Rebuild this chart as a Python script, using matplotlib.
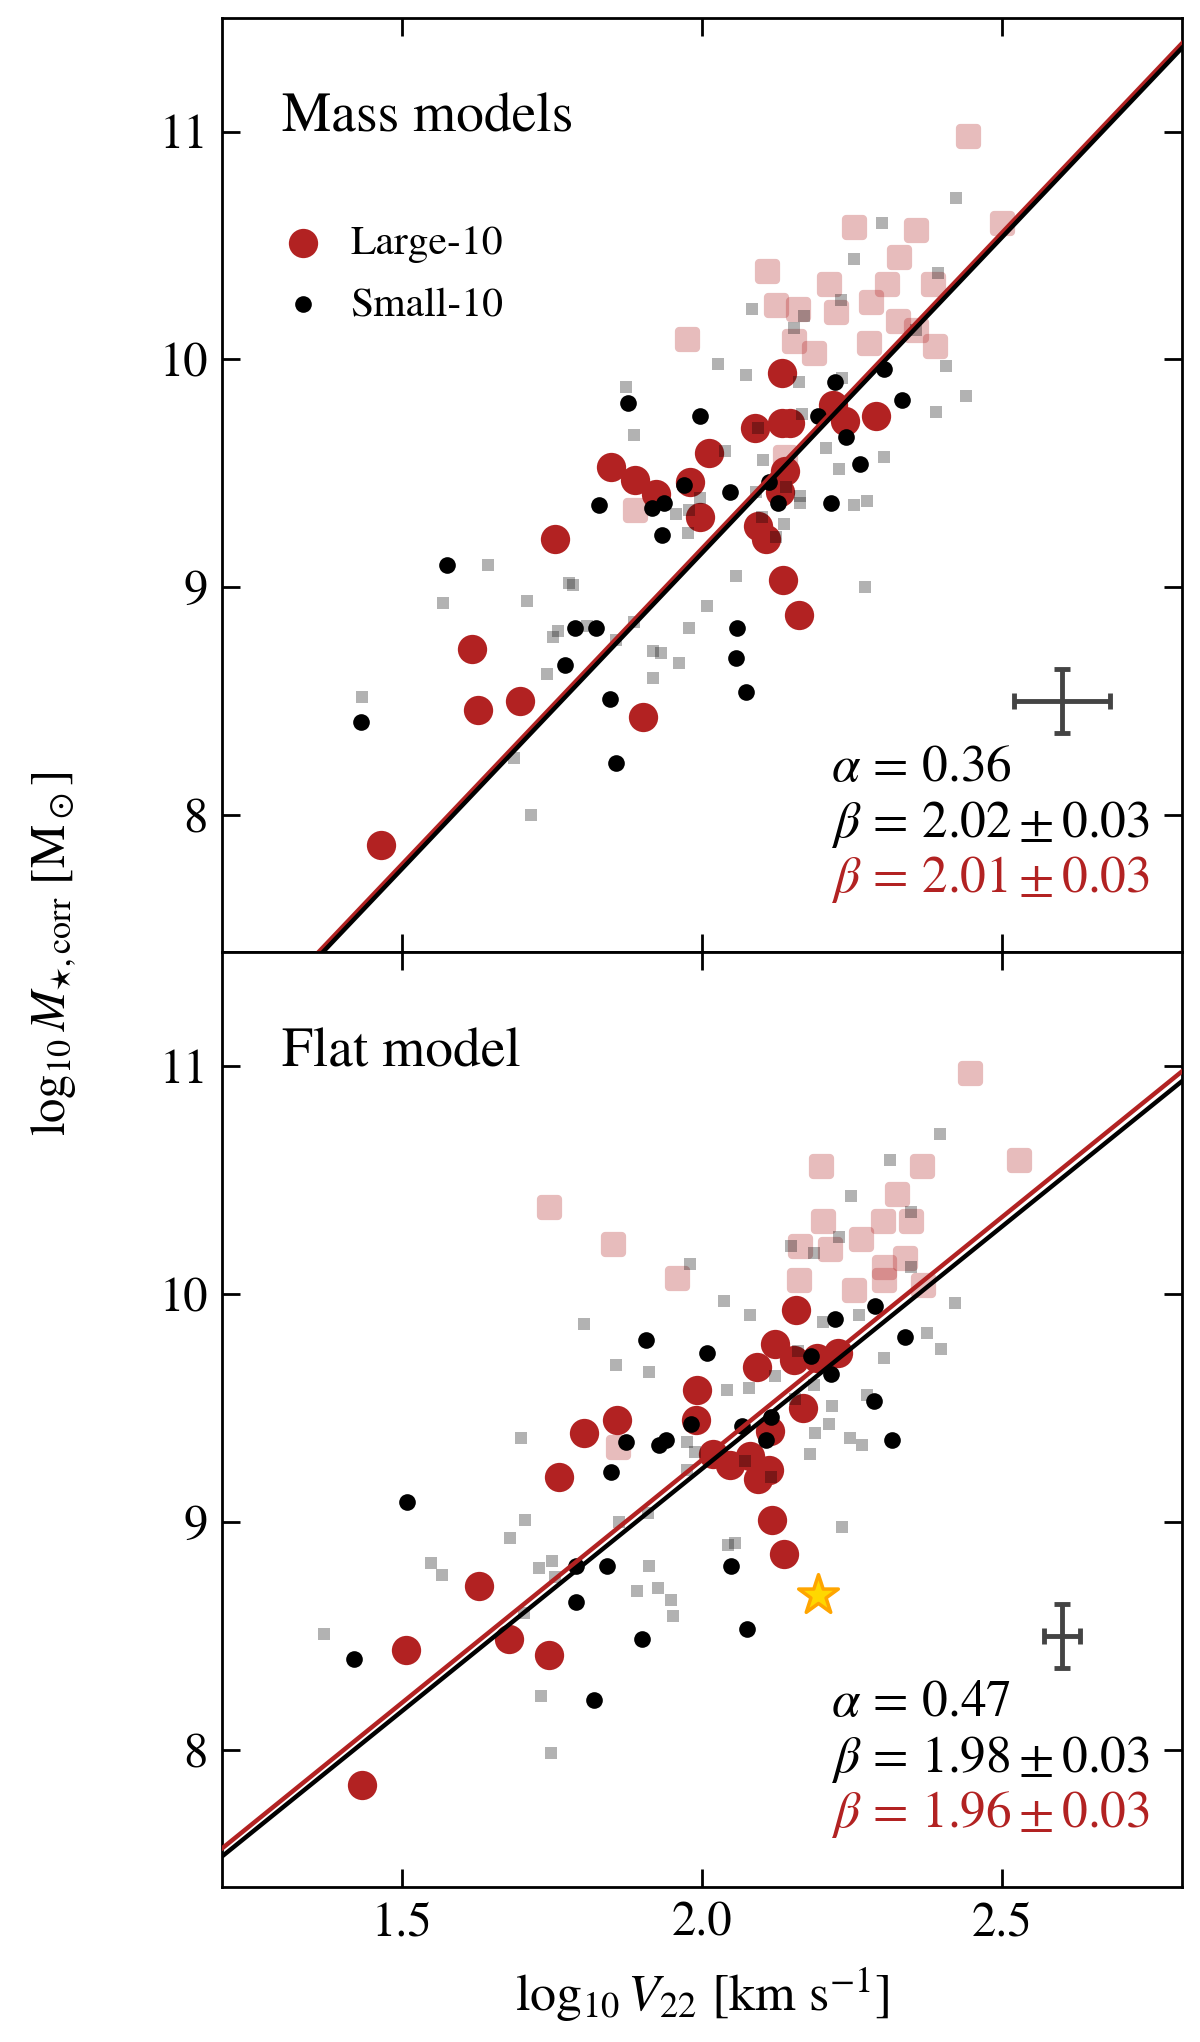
import numpy as np
import matplotlib
matplotlib.use("Agg")
import matplotlib.pyplot as plt
from matplotlib.path import Path

plt.rcParams['font.family'] = ['STIXGeneral', 'DejaVu Serif']
plt.rcParams['mathtext.fontset'] = 'stix'

# ---- data ----
# top panel: mass models
top_pink_x = [2.443, 2.500, 2.254, 2.357, 2.329, 2.109, 2.212, 2.309, 2.385, 2.123, 2.160,
              2.224, 2.282, 2.327, 2.356, 2.153, 2.187, 2.278, 2.389, 1.975, 2.139, 1.888]
top_pink_y = [10.98, 10.60, 10.58, 10.57, 10.45, 10.39, 10.33, 10.33, 10.33, 10.24, 10.22,
              10.21, 10.25, 10.17, 10.13, 10.08, 10.03, 10.07, 10.06, 10.09, 9.57, 9.34]

top_gray_x = [1.433, 1.643, 1.569, 1.709, 1.779, 1.786, 1.761, 1.752, 1.808, 1.742, 1.687,
              1.716, 1.886, 1.857, 1.919, 1.932, 1.961, 1.918, 1.979, 1.957, 1.976, 1.978,
              1.997, 2.057, 2.008, 2.272, 2.253, 2.275, 2.163, 2.163, 2.136, 2.100, 2.124,
              2.090, 2.140, 2.423, 2.300, 2.253, 2.393, 2.232, 2.084, 2.170, 2.153, 2.356,
              2.407, 2.440, 2.390, 2.027, 2.074, 1.873, 1.887, 2.162, 2.233, 2.166, 2.039,
              2.102, 2.207, 2.228, 2.304, 2.094]
top_gray_y = [8.52, 9.10, 8.93, 8.94, 9.02, 9.01, 8.81, 8.78, 8.83, 8.62, 8.25,
              8.00, 8.85, 8.77, 8.72, 8.71, 8.67, 8.60, 8.82, 9.32, 9.24, 9.34,
              9.39, 9.05, 8.92, 9.00, 9.36, 9.38, 9.40, 9.37, 9.28, 9.31, 9.22,
              9.42, 9.44, 10.71, 10.60, 10.44, 10.38, 10.26, 10.22, 10.19, 10.14, 10.13,
              9.97, 9.84, 9.77, 9.98, 9.93, 9.88, 9.67, 9.90, 9.92, 9.76, 9.60,
              9.56, 9.61, 9.52, 9.57, 9.70]

top_red_x = [1.466, 1.617, 1.627, 1.697, 1.755, 1.902, 1.997, 2.093, 2.107, 2.135, 2.161,
             2.134, 2.290, 2.218, 2.239, 2.133, 2.147, 2.088, 2.011, 1.980, 1.848, 1.888,
             1.924, 2.138, 2.130]
top_red_y = [7.87, 8.73, 8.46, 8.50, 9.21, 8.43, 9.31, 9.27, 9.21, 9.03, 8.88,
             9.94, 9.75, 9.80, 9.73, 9.72, 9.72, 9.70, 9.59, 9.46, 9.53, 9.47,
             9.41, 9.51, 9.42]

top_black_x = [1.432, 1.576, 1.789, 1.824, 1.772, 1.846, 1.856, 1.829, 1.917, 1.936, 1.933,
               1.970, 2.046, 2.126, 2.215, 2.058, 2.057, 2.074, 2.111, 1.876, 1.996, 2.222,
               2.304, 2.333, 2.193, 2.240, 2.264]
top_black_y = [8.41, 9.10, 8.82, 8.82, 8.66, 8.51, 8.23, 9.36, 9.35, 9.37, 9.23,
               9.45, 9.42, 9.37, 9.37, 8.82, 8.69, 8.54, 9.46, 9.81, 9.75, 9.90,
               9.96, 9.82, 9.75, 9.66, 9.54]

# bottom panel: flat model
bot_pink_x = [2.447, 2.528, 2.199, 2.366, 2.325, 1.852, 1.959, 2.202, 2.301, 2.349, 2.164,
              2.214, 2.265, 2.339, 2.304, 2.304, 2.161, 2.253, 2.368, 1.860, 1.746]
bot_pink_y = [10.97, 10.59, 10.56, 10.56, 10.44, 10.22, 10.07, 10.32, 10.32, 10.32, 10.21,
              10.20, 10.24, 10.16, 10.12, 10.06, 10.06, 10.02, 10.04, 9.33, 10.38]

bot_gray_x = [1.371, 1.699, 1.706, 1.681, 1.549, 1.567, 1.728, 1.751, 1.756, 1.703, 1.861,
              1.910, 1.912, 1.891, 1.926, 1.949, 1.951, 1.732, 1.748, 1.975, 1.975, 1.988,
              2.041, 2.078, 2.216, 2.212, 2.188, 2.180, 2.247, 2.267, 2.275, 2.233, 2.044,
              2.055, 2.072, 2.115, 2.155, 2.186, 2.396, 2.313, 2.249, 2.348, 2.229, 2.149,
              2.186, 2.349, 1.980, 2.037, 2.080, 1.803, 1.856, 1.912, 2.201, 2.262, 2.422,
              2.375, 2.398, 2.303, 2.160, 2.121]
bot_gray_y = [8.51, 9.37, 9.01, 8.93, 8.82, 8.77, 8.80, 8.83, 8.76, 8.60, 9.00,
              9.04, 8.81, 8.70, 8.71, 8.66, 8.59, 8.24, 7.99, 9.23, 9.35, 9.31,
              9.58, 9.59, 9.51, 9.43, 9.39, 9.30, 9.37, 9.34, 9.56, 8.98, 8.90,
              8.91, 9.27, 9.20, 9.54, 9.60, 10.70, 10.59, 10.43, 10.36, 10.25, 10.21,
              10.18, 10.12, 10.13, 9.97, 9.91, 9.87, 9.69, 9.66, 9.88, 9.91, 9.96,
              9.83, 9.76, 9.72, 9.75, 9.64]

bot_red_x = [1.433, 1.507, 1.628, 1.678, 1.746, 1.762, 1.804, 1.859, 1.992, 1.990, 2.168,
             2.113, 2.019, 2.047, 2.080, 2.111, 2.094, 2.117, 2.137, 2.156, 2.121, 2.091,
             2.153, 2.192, 2.226]
bot_red_y = [7.85, 8.44, 8.72, 8.49, 8.42, 9.20, 9.39, 9.45, 9.58, 9.45, 9.50,
             9.40, 9.30, 9.25, 9.29, 9.23, 9.19, 9.01, 8.86, 9.93, 9.78, 9.68,
             9.71, 9.72, 9.74]

bot_black_x = [1.421, 1.509, 1.791, 1.841, 1.791, 1.900, 1.821, 1.849, 1.873, 1.928, 1.940,
               1.981, 2.066, 2.115, 2.106, 2.286, 2.316, 2.048, 2.075, 1.906, 2.008, 2.289,
               2.221, 2.339, 2.181, 2.215]
bot_black_y = [8.40, 9.09, 8.81, 8.81, 8.65, 8.49, 8.22, 9.22, 9.35, 9.34, 9.36,
               9.43, 9.42, 9.46, 9.36, 9.53, 9.36, 8.81, 8.53, 9.80, 9.74, 9.95,
               9.89, 9.81, 9.73, 9.65]

star_x, star_y = 2.193, 8.68

# fit lines (value at log V = 2, slope)
top_fit_black = (9.150, 2.772)
top_fit_red = (9.170, 2.772)
bot_fit_black = (9.234, 2.125)
bot_fit_red = (9.273, 2.130)

top_err = (0.08, 0.14)
bot_err = (0.03, 0.14)

top_stats = [r'$\alpha\,=\,0.36$', r'$\beta\,=\,2.02\pm0.03$', r'$\beta\,=\,2.01\pm0.03$']
bot_stats = [r'$\alpha\,=\,0.47$', r'$\beta\,=\,1.98\pm0.03$', r'$\beta\,=\,1.96\pm0.03$']

RED = '#b22222'


def rounded_square(r=0.35, n=10):
    pts = []
    c = 1 - r
    for cx, cy, a0 in [(c, c, 0), (-c, c, 90), (-c, -c, 180), (c, -c, 270)]:
        t = np.radians(np.linspace(a0, a0 + 90, n))
        pts += list(zip(cx + r * np.cos(t), cy + r * np.sin(t)))
    pts.append(pts[0])
    return Path(pts, closed=True)


rsq = rounded_square()

fig = plt.figure(figsize=(12, 20.42), dpi=100)
ax1 = fig.add_axes([0.1848, 0.5338, 0.8003, 0.4576])
ax2 = fig.add_axes([0.1848, 0.0758, 0.8003, 0.4580])


def panel(ax, pink, gray, red, black, fit_b, fit_r, err, stats, title):
    ax.scatter(pink[0], pink[1], marker=rsq, s=330, color=RED, alpha=0.3, lw=0, zorder=1)
    hr = ax.scatter(red[0], red[1], s=445, color=RED, lw=0, zorder=2, label='Large-10')
    hb = ax.scatter(black[0], black[1], s=144, color='k', lw=0, zorder=3, label='Small-10')
    ax.scatter(gray[0], gray[1], marker='s', s=85, color='k', alpha=0.3, lw=0, zorder=4)

    xx = np.array([1.2, 2.8])
    ax.plot(xx, fit_r[0] + fit_r[1] * (xx - 2), color=RED, lw=3.2, zorder=5)
    ax.plot(xx, fit_b[0] + fit_b[1] * (xx - 2), color='k', lw=3.2, zorder=6)

    ax.errorbar(2.6, 8.5, xerr=err[0], yerr=err[1], color='#444444', lw=3.5,
                capsize=6, capthick=3.5, zorder=7)

    ax.text(0.063, 0.878, title, transform=ax.transAxes, fontsize=40, va='baseline')
    cols = ['k', 'k', RED]
    for s, yy, c in zip(stats, [0.183, 0.123, 0.064], cols):
        ax.text(0.634, yy, s, transform=ax.transAxes, fontsize=37, color=c, va='baseline')

    ax.set_xlim(1.2, 2.8)
    ax.set_ylim(7.4, 11.5)
    ax.set_xticks([1.5, 2.0, 2.5])
    ax.set_xticklabels(['1.5', '2.0', '2.5'])
    ax.set_yticks([8, 9, 10, 11])
    ax.tick_params(direction='in', top=True, right=True, length=13, width=2,
                   labelsize=35, pad=10)
    for sp in ax.spines.values():
        sp.set_linewidth(2)
    return hr, hb


hr, hb = panel(ax1, (top_pink_x, top_pink_y), (top_gray_x, top_gray_y),
               (top_red_x, top_red_y), (top_black_x, top_black_y),
               top_fit_black, top_fit_red, top_err, top_stats, 'Mass models')
panel(ax2, (bot_pink_x, bot_pink_y), (bot_gray_x, bot_gray_y),
      (bot_red_x, bot_red_y), (bot_black_x, bot_black_y),
      bot_fit_black, bot_fit_red, bot_err, bot_stats, 'Flat model')

ax2.scatter([star_x], [star_y], marker='*', s=900, color='gold', edgecolor='orange',
            lw=2.5, zorder=8)

ax1.tick_params(labelbottom=False)
ax1.legend(handles=[hr, hb], loc='upper left', bbox_to_anchor=(0.0235, 0.796),
           frameon=False, fontsize=30, handletextpad=0.15, labelspacing=0.55,
           scatterpoints=1, borderaxespad=0)

ax2.set_xlabel(r'$\log_{10}V_{22}$ [km s$^{-1}$]', fontsize=37.5, labelpad=14)
fig.text(0.045, 0.533, r'$\log_{10}M_{\star,\rm corr}$ [M$_\odot$]', fontsize=35,
         rotation=90, ha='center', va='center')

fig.savefig('out.png', dpi=100)
